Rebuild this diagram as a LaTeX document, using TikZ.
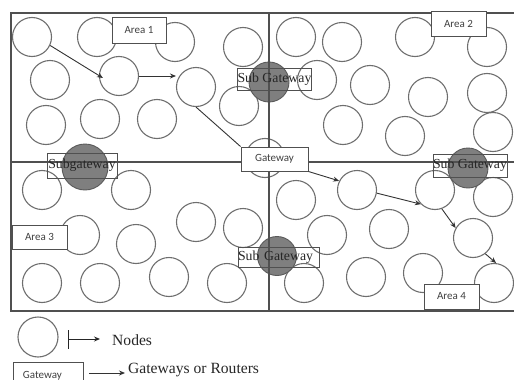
\documentclass[tikz,border=0pt]{standalone}
\usepackage{fontspec}
\setmainfont{Liberation Serif}
\newfontfamily\carl{Carlito}
\usetikzlibrary{arrows.meta,calc}
\definecolor{circgray}{HTML}{6E6E6E}
\definecolor{linegray}{HTML}{505050}
\definecolor{gwfill}{HTML}{7F7F7F}
\definecolor{gwline}{HTML}{5A5A5A}
\definecolor{labgray}{HTML}{404040}
\tikzset{
  nodec/.style={circle, draw=circgray, line width=1.1pt, minimum size=39pt, inner sep=0pt},
  gwc/.style={circle, draw=gwline, fill=gwfill, line width=0.9pt, inner sep=0pt},
  sgbox/.style={draw=linegray, line width=0.9pt, inner sep=0pt, font=\fontsize{13.8}{14}\selectfont, text=black!85},
  areabox/.style={draw=linegray, fill=white, line width=1pt, inner sep=0pt, font=\carl\fontsize{11}{12}\selectfont, text=labgray},
  grid/.style={draw=linegray, line width=1.1pt},
  arr/.style={-{Stealth[length=6pt,width=5pt]}, draw=black!80, line width=0.9pt},
  plain/.style={draw=black!80, line width=0.9pt},
  legtext/.style={anchor=west, inner sep=0pt, font=\fontsize{15.6}{17}\selectfont, text=black!85},
}
\begin{document}
\begin{tikzpicture}[x=1pt,y=-1pt]
\useasboundingbox (0,0) rectangle (514,380);
% ordinary nodes
\foreach \n/\xx/\yy in {c1/32/37,c2/97/37,c3/175/42,c4/243/47,c5/50/80,c6/119/76,c7/196/87,c8/239/106,c9/46/125,c10/100/119,c11/157/119,c0/265/158,
 c12/296/37,c13/342/42,c14/415/37,c15/487/47,c16/317/80,c17/370/85,c18/428/97,c19/487/93,c20/343/125,c21/405/136,c22/493/132,
 c23/42/190,c24/131/190,c25/196/222,c26/243/228,c27/80/235,c28/136/244,c29/42/283,c30/100/283,c31/169/277,c32/227/283,
 c33/357/190,c34/435/190,c35/493/197,c36/296/200,c37/327/235,c38/389/229,c39/473/238,c40/304/283,c41/366/277,c42/423/273,c43/494/283}
 {\node[nodec] (\n) at (\xx,\yy) {};}
% sub gateway discs
\node[gwc, minimum size=40pt] (g1) at (269,82) {};
\node[gwc, minimum size=46pt] (g2) at (85,167) {};
\node[gwc, minimum size=40pt] (g3) at (468,168) {};
\node[gwc, minimum size=39pt] (g4) at (277,256) {};
% area frame and dividers
\coordinate (tl) at (11,13); \coordinate (tr) at (516,13);
\coordinate (bl) at (11,311); \coordinate (br) at (516,311);
\coordinate (ml) at (11,162); \coordinate (mr) at (516,162);
\coordinate (mt) at (269,13); \coordinate (mb) at (269,311);
\draw[grid] (tr) -- (tl) -- (bl) -- (br);
\draw[grid] (ml) -- (mr);
\draw[grid] (mt) -- (mb);
% sub gateway labels
\node[sgbox, minimum width=73pt, minimum height=22pt] (sg1) at (274.5,79) {Sub Gateway};
\node[sgbox, minimum width=70pt, minimum height=25pt] (sg2) at (82,165.5) {Subgateway};
\node[sgbox, minimum width=74pt, minimum height=23pt] (sg3) at (470,165.5) {Sub Gateway};
\node[sgbox, text width=81pt, align=left, minimum height=20pt] (sg4) at (278.5,257) {Sub Gateway};
% gateway
\node[areabox, minimum width=67pt, minimum height=24pt] (gw) at (274.5,159) {Gateway};
% area labels
\node[areabox, minimum width=54pt, minimum height=26pt] (a1) at (139,30) {Area 1};
\node[areabox, minimum width=55pt, minimum height=25pt] (a2) at (458.5,23.5) {Area 2};
\node[areabox, minimum width=55pt, minimum height=24pt] (a3) at (39.5,237) {Area 3};
\node[areabox, minimum width=55pt, minimum height=25pt] (a4) at (451.5,296.5) {Area 4};
% routes
\draw[arr] (c1.-25) -- ($(c6.west)+(4,2)$);
\draw[arr] (c6.east) -- (c6.east -| c7.west);
\draw[plain] (c7.south) -- (gw.north west);
\draw[arr] (gw.south east) -- (c33.153);
\draw[arr] (c33.-9) -- (c34.225);
\draw[arr] (c34.-70) -- (c39.150);
\draw[arr] (c39.-52) -- (c43.84);
% legend
\node[nodec, minimum size=40pt] (lc) at (38,337) {};
\coordinate (l1s) at (68,339); \coordinate (l1e) at (100,339);
\draw[{Bar[width=19pt]}-{Stealth[length=6pt,width=5pt]}, draw=black!85, line width=0.9pt] (l1s) -- (l1e);
\node[legtext] (tn) at (112,340) {Nodes};
\node[areabox, minimum width=70pt, minimum height=28pt, text width=50pt, align=left, inner xsep=10pt] (lg) at (48,376) {Gateway};
\coordinate (l2s) at (89,373); \coordinate (l2e) at (125,373);
\draw[arr] (l2s) -- (l2e);
\node[legtext] (tg) at (128,370) {Gateways or Routers};
\end{tikzpicture}
\end{document}
